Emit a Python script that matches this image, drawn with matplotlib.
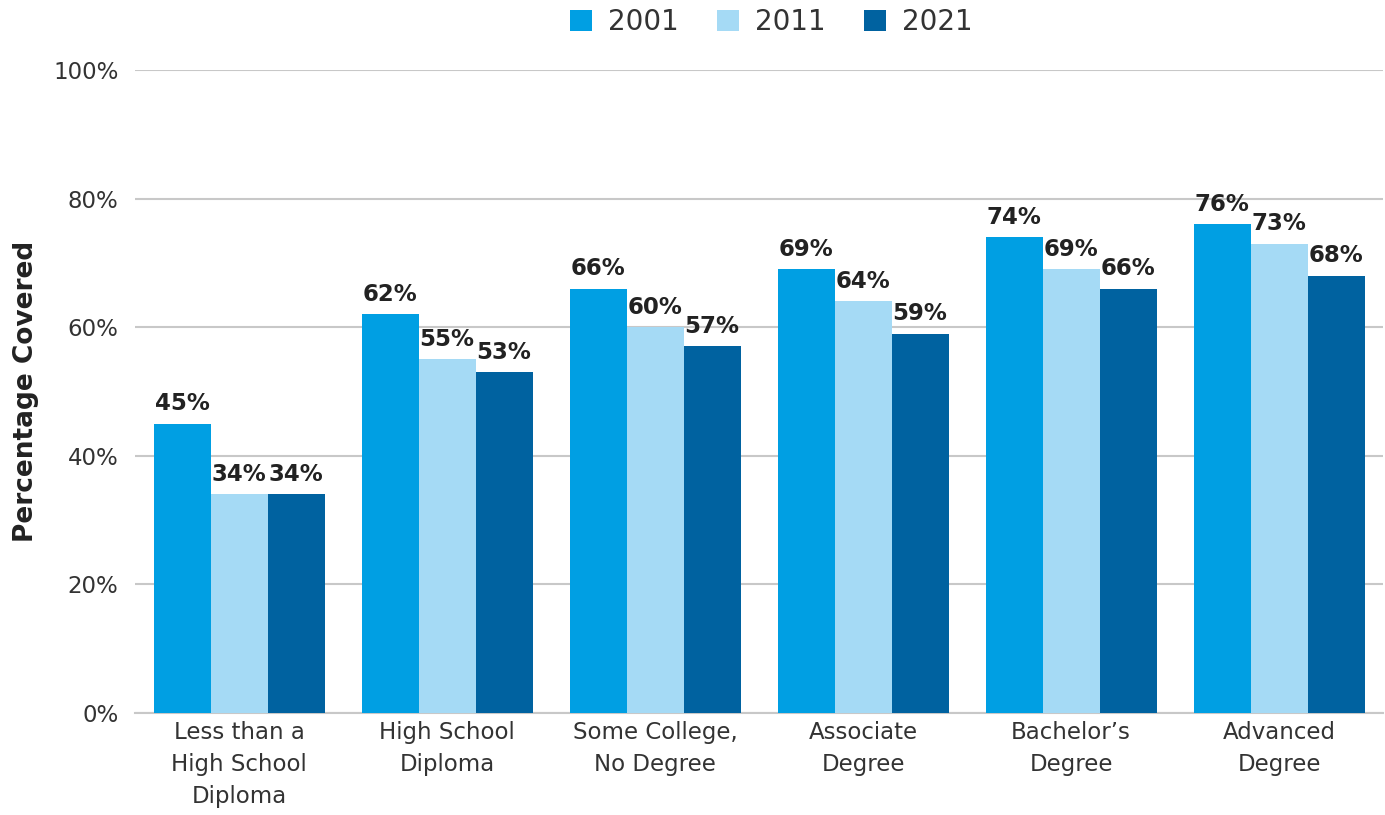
import matplotlib
matplotlib.use("Agg")
import matplotlib.pyplot as plt
import numpy as np
from matplotlib.ticker import PercentFormatter

categories = ["Less than a\nHigh School\nDiploma", "High School\nDiploma",
              "Some College,\nNo Degree", "Associate\nDegree",
              "Bachelor\u2019s\nDegree", "Advanced\nDegree"]
series_names = ["2001", "2011", "2021"]
v2001 = [45, 62, 66, 69, 74, 76]
v2011 = [34, 55, 60, 64, 69, 73]
v2021 = [34, 53, 57, 59, 66, 68]
yticks = [0, 20, 40, 60, 80, 100]

colors = ["#009FE3", "#A5DAF5", "#0062A0"]
txt = "#222222"
txt_light = "#333333"

plt.rcParams['font.family'] = ['DejaVu Sans']

fig = plt.figure(figsize=(13.85, 8.15), dpi=100)
ax = fig.add_axes([0.0975, 0.1252, 0.9011, 0.7889])

x = np.arange(len(categories))
w = 0.274
for i, (name, vals) in enumerate(zip(series_names, [v2001, v2011, v2021])):
    xs = x + (i - 1) * w
    ax.bar(xs, vals, width=w, color=colors[i], label=name, zorder=3)
    for xi, v in zip(xs, vals):
        ax.text(xi, v + 1.3, f"{v}%", ha="center", va="bottom",
                fontsize=16.5, fontweight="bold", color=txt, zorder=4)

ax.set_xlim(-0.5, len(categories) - 0.5)
ax.set_ylim(0, 100)
ax.set_yticks(yticks)
ax.yaxis.set_major_formatter(PercentFormatter(decimals=0))
ax.set_xticks(x)
ax.set_xticklabels(categories, fontsize=16.5, color=txt_light, linespacing=1.5)
ax.tick_params(axis='y', labelsize=16.5, labelcolor=txt_light, length=0, pad=12)
ax.tick_params(axis='x', length=0, pad=6)
ax.grid(axis='y', color="#C8C8C8", linewidth=1.5, zorder=0)
for s in ["top", "right", "left"]:
    ax.spines[s].set_visible(False)
ax.spines["bottom"].set_color("#C8C8C8")
ax.spines["bottom"].set_linewidth(1.5)

ax.set_ylabel("Percentage Covered", fontsize=19, fontweight="bold",
              color=txt, labelpad=10)

leg = fig.legend(loc="upper center", bbox_to_anchor=(0.557, 1.021), ncol=3,
                 frameon=False, fontsize=20, handlelength=0.8, handleheight=0.8,
                 columnspacing=1.37, handletextpad=0.58)
for t in leg.get_texts():
    t.set_color(txt_light)

fig.savefig("out.png", dpi=100)
